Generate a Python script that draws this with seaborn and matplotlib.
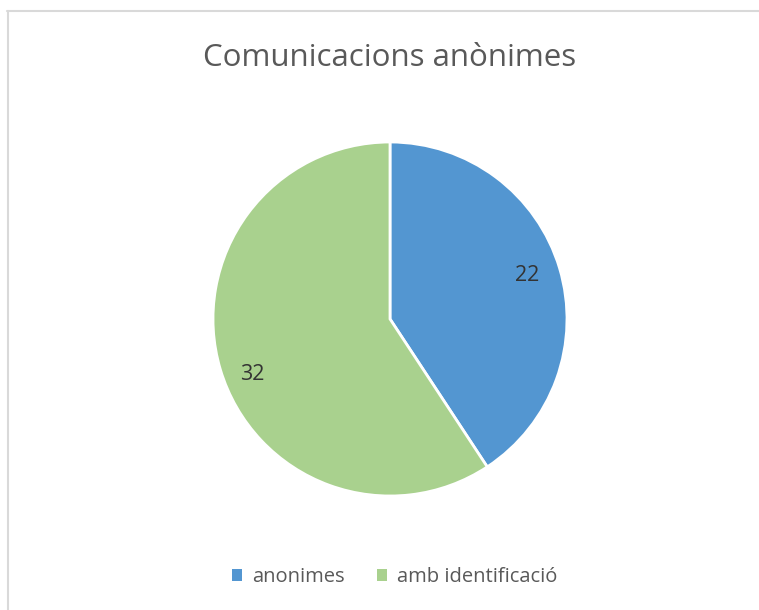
import matplotlib
matplotlib.use("Agg")
import numpy as np
import matplotlib.pyplot as plt
from matplotlib.lines import Line2D
from matplotlib.patches import Patch
import seaborn as sns

# data
categories = ["anonimes", "amb identificació"]
counts = [22, 32]
colors = ["#5396D1", "#A9D18E"]
title = "Comunicacions anònimes"

sns.set_theme(style="white")
plt.rcParams["font.family"] = ["Open Sans", "DejaVu Sans"]

fig = plt.figure(figsize=(7.59, 6.10), dpi=100)
fig.patch.set_facecolor("white")

# chart frame (top and left edges visible)
fig.add_artist(Line2D([7 / 759, 1], [1 - 11 / 610, 1 - 11 / 610], color="#D9D9D9", lw=1.5))
fig.add_artist(Line2D([8 / 759, 8 / 759], [0, 1 - 11 / 610], color="#D9D9D9", lw=1.5))

cx, cy, r = 390, 319, 177
ax = fig.add_axes([(cx - r) / 759, (610 - cy - r) / 610, 2 * r / 759, 2 * r / 610])
wedges, texts = ax.pie(
    counts, colors=colors, startangle=90, counterclock=False,
    labels=[str(c) for c in counts], labeldistance=0.825,
    wedgeprops=dict(edgecolor="white", linewidth=2),
    textprops=dict(fontsize=15.5, color="#333333"),
)
# nudge labels a little like Excel's placement
for w, t in zip(wedges, texts):
    mid = np.deg2rad((w.theta1 + w.theta2) / 2 + 3)
    t.set_position((0.825 * np.cos(mid), 0.825 * np.sin(mid) - 0.02))
    t.set_ha("center")
    t.set_va("center_baseline")
ax.set_xlim(-1, 1)
ax.set_ylim(-1, 1)
ax.set_aspect("equal")
ax.axis("off")

fig.text(390 / 759, 1 - 58 / 610, title, ha="center", va="center", fontsize=22.5, color="#595959")

handles = [Patch(facecolor=c, edgecolor="none", label=l) for c, l in zip(colors, categories)]
fig.legend(handles=handles, loc="center", bbox_to_anchor=(395 / 759, 1 - 577 / 610), ncol=2,
           frameon=False, fontsize=14.5, labelcolor="#595959", handlelength=0.5, handleheight=0.5,
           handletextpad=0.5, columnspacing=1.6)

fig.savefig("out.png", dpi=100, facecolor="white")
